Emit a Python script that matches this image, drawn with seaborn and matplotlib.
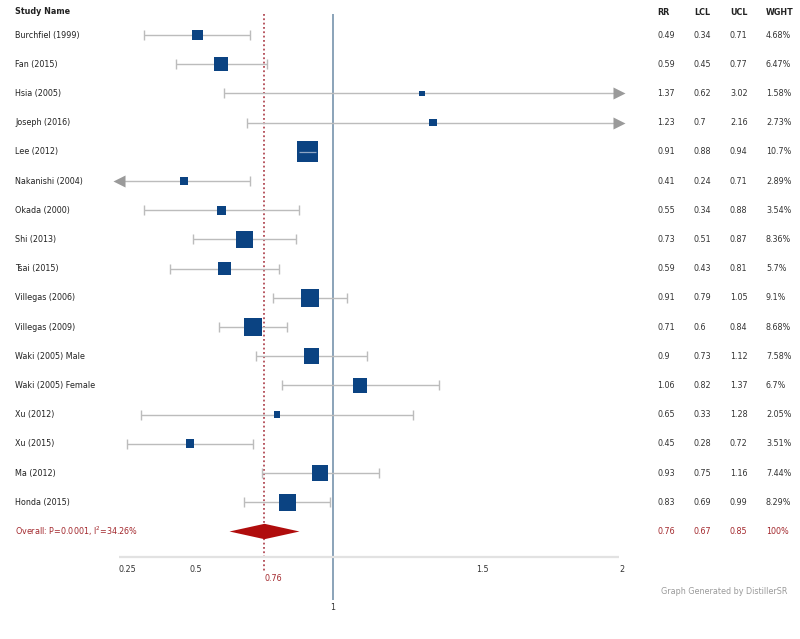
import numpy as np
import pandas as pd
import matplotlib
matplotlib.use("Agg")
import matplotlib.pyplot as plt
import seaborn as sns

# data
studies = ["Burchfiel (1999)", "Fan (2015)", "Hsia (2005)", "Joseph (2016)", "Lee (2012)",
           "Nakanishi (2004)", "Okada (2000)", "Shi (2013)", "Tsai (2015)", "Villegas (2006)",
           "Villegas (2009)", "Waki (2005) Male", "Waki (2005) Female", "Xu (2012)", "Xu (2015)",
           "Ma (2012)", "Honda (2015)"]
rr = [0.49, 0.59, 1.37, 1.23, 0.91, 0.41, 0.55, 0.73, 0.59, 0.91, 0.71, 0.9, 1.06, 0.65, 0.45, 0.93, 0.83]
lcl = [0.34, 0.45, 0.62, 0.7, 0.88, 0.24, 0.34, 0.51, 0.43, 0.79, 0.6, 0.73, 0.82, 0.33, 0.28, 0.75, 0.69]
ucl = [0.71, 0.77, 3.02, 2.16, 0.94, 0.71, 0.88, 0.87, 0.81, 1.05, 0.84, 1.12, 1.37, 1.28, 0.72, 1.16, 0.99]
wght = [4.68, 6.47, 1.58, 2.73, 10.7, 2.89, 3.54, 8.36, 5.7, 9.1, 8.68, 7.58, 6.7, 2.05, 3.51, 7.44, 8.29]

overall_label = "Overall: P=0.0001, I$^2$=34.26%"
overall = {"rr": 0.76, "lcl": 0.67, "ucl": 0.85, "wght": 100}

x_ticks = [0.25, 0.5, 1.5, 2]
x_min, x_max = 0.25, 2.0

sns.set_style("white")
plt.rcParams["font.family"] = ["DejaVu Sans"]

df = pd.DataFrame({"study": studies, "rr": rr, "lcl": lcl, "ucl": ucl, "wght": wght})
df["row"] = np.arange(len(df))
df["lo"] = df["lcl"].clip(lower=x_min)
df["hi"] = df["ucl"].clip(upper=x_max)
# DistillerSR puts the box at the middle of the (clipped) interval
df["mid"] = (df["lo"] + df["hi"]) / 2
df["s"] = ((1.7 * df["wght"] + 3) * 0.72) ** 2

W, H = 800, 639
fig = plt.figure(figsize=(W / 100, H / 100), dpi=100)
ax = fig.add_axes([0, 0, 1, 1])
ax.set_xlim(1 - 333 / 286, 1 + 467 / 286)
ax.set_ylim(20.685, -1.199)
ax.axis("off")

def fx(px):
    return px / W

ytr = ax.get_yaxis_transform()

grey = "#bcbcbc"
blue = "#0b4382"
red = "#a3282d"
txt = "#333333"
fs = 5.8

# reference lines
ax.vlines(1, -0.72, 19.35, color="#6b8aa5", lw=1.1, zorder=1)
ax.vlines(overall["rr"], -0.72, 18.42, color="#b24a55", lw=1.3, linestyles=(0, (1, 1.4)), zorder=1)

# whiskers and caps
ax.hlines(df["row"], df["lo"], df["hi"], color=grey, lw=1.0, zorder=2)
cap_l = df[df["lcl"] >= x_min]
cap_r = df[df["ucl"] <= x_max]
ax.vlines(cap_l["lcl"], cap_l["row"] - 0.17, cap_l["row"] + 0.17, color=grey, lw=1.0, zorder=2)
ax.vlines(cap_r["ucl"], cap_r["row"] - 0.17, cap_r["row"] + 0.17, color=grey, lw=1.0, zorder=2)

# arrows for clipped intervals
arr_r = df[df["ucl"] > x_max]
arr_l = df[df["lcl"] < x_min]
ax.scatter(arr_r["hi"], arr_r["row"], marker=">", s=75, color="#9a9a9a", linewidths=0, zorder=3)
ax.scatter(arr_l["lo"], arr_l["row"], marker="<", s=75, color="#9a9a9a", linewidths=0, zorder=3)

# weight boxes
sns.scatterplot(data=df, x="mid", y="row", marker="s", s=df["s"], color=blue,
                linewidth=0, ax=ax, zorder=4, legend=False)
# CI line inside boxes that are wider than the interval
inside = df[(df["hi"] - df["lo"]) * 286 < (1.7 * df["wght"] + 3)]
ax.hlines(inside["row"], inside["lo"], inside["hi"], color="#8fa6c4", lw=0.9, zorder=5)

# overall diamond
diamond = [(-1, 0), (0, 0.22), (1, 0), (0, -0.22), (-1, 0)]
sns.scatterplot(x=[overall["rr"]], y=[len(df)], marker=diamond, s=(70 * 0.72) ** 2,
                color="#b00d0d", linewidth=0, ax=ax, zorder=4, legend=False)

# axis line and tick labels
ax.hlines(17.88, x_min, x_max, color="#e2e2e2", lw=1.6, zorder=1)
for t in x_ticks:
    ax.text(t, 18.32, f"{t:g}", ha="left", va="center", fontsize=fs, color=txt)
ax.text(overall["rr"], 18.63, f"{overall['rr']:g}", ha="left", va="center", fontsize=fs, color=red)
ax.text(1, 19.59, "1", ha="center", va="center", fontsize=fs, color=txt)

# left labels
ax.text(fx(15), -0.79, "Study Name", transform=ytr, ha="left", va="center",
        fontsize=fs, fontweight="bold", color="#222222")
for r, name in zip(df["row"], df["study"]):
    ax.text(fx(15), r, name, transform=ytr, ha="left", va="center", fontsize=fs, color="#222222")
ax.text(fx(15), len(df), overall_label, transform=ytr, ha="left", va="center",
        fontsize=fs, color=red)

# right table
col_x = [657, 694, 730, 766]
for cx, head in zip(col_x, ["RR", "LCL", "UCL", "WGHT"]):
    ax.text(fx(cx), -0.77, head, transform=ytr, ha="left", va="center",
            fontsize=fs, fontweight="bold", color="#222222")
for r, a, b, c, w in zip(df["row"], rr, lcl, ucl, wght):
    for cx, val in zip(col_x, [f"{a:g}", f"{b:g}", f"{c:g}", f"{w:g}%"]):
        ax.text(fx(cx), r, val, transform=ytr, ha="left", va="center", fontsize=fs, color=txt)
for cx, val in zip(col_x, [f"{overall['rr']:g}", f"{overall['lcl']:g}",
                           f"{overall['ucl']:g}", f"{overall['wght']:g}%"]):
    ax.text(fx(cx), len(df), val, transform=ytr, ha="left", va="center", fontsize=fs, color=red)

ax.text(fx(787), 19.06, "Graph Generated by DistillerSR", transform=ytr, ha="right",
        va="center", fontsize=fs, color="#9a9a9a")

fig.savefig("out.png", dpi=100)
